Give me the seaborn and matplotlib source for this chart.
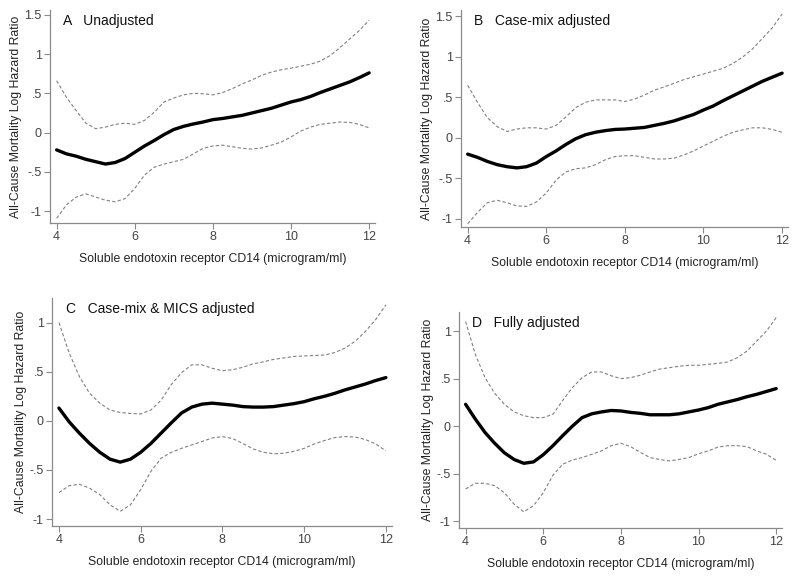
import matplotlib.pyplot as plt
import numpy as np
import pandas as pd
import seaborn as sns

# soluble CD14 grid (microgram/ml), read every 0.25
x = [4, 4.25, 4.5, 4.75, 5, 5.25, 5.5, 5.75, 6, 6.25, 6.5, 6.75, 7, 7.25, 7.5, 7.75,
     8, 8.25, 8.5, 8.75, 9, 9.25, 9.5, 9.75, 10, 10.25, 10.5, 10.75, 11, 11.25, 11.5, 11.75, 12]

# A  Unadjusted
a_est = [-0.22, -0.27, -0.30, -0.34, -0.37, -0.40, -0.38, -0.33, -0.25, -0.17, -0.10, -0.025, 0.04,
         0.08, 0.11, 0.135, 0.165, 0.18, 0.20, 0.22, 0.25, 0.28, 0.31, 0.35, 0.39, 0.42, 0.46,
         0.51, 0.555, 0.60, 0.645, 0.70, 0.76]
a_up = [0.66, 0.45, 0.28, 0.12, 0.05, 0.07, 0.105, 0.12, 0.105, 0.155, 0.26, 0.39, 0.44, 0.48,
        0.50, 0.495, 0.48, 0.51, 0.56, 0.62, 0.67, 0.73, 0.77, 0.80, 0.82, 0.845, 0.87, 0.91,
        0.98, 1.08, 1.19, 1.30, 1.43]
a_lo = [-1.09, -0.92, -0.82, -0.78, -0.82, -0.86, -0.88, -0.84, -0.71, -0.54, -0.44, -0.40, -0.37,
        -0.34, -0.27, -0.20, -0.17, -0.16, -0.18, -0.20, -0.21, -0.195, -0.16, -0.12, -0.055, 0.02,
        0.07, 0.105, 0.12, 0.135, 0.13, 0.105, 0.06]

# B  Case-mix adjusted
b_est = [-0.20, -0.24, -0.29, -0.33, -0.355, -0.37, -0.355, -0.31, -0.23, -0.16, -0.08, -0.01, 0.04,
         0.07, 0.09, 0.105, 0.11, 0.12, 0.13, 0.155, 0.18, 0.21, 0.25, 0.29, 0.345, 0.395, 0.46,
         0.52, 0.58, 0.64, 0.70, 0.75, 0.80]
b_up = [0.65, 0.44, 0.25, 0.14, 0.08, 0.11, 0.125, 0.125, 0.11, 0.155, 0.26, 0.375, 0.44, 0.47,
        0.47, 0.47, 0.45, 0.48, 0.53, 0.59, 0.63, 0.675, 0.72, 0.755, 0.79, 0.825, 0.86, 0.92,
        1.0, 1.10, 1.23, 1.36, 1.53]
b_lo = [-1.06, -0.92, -0.80, -0.77, -0.80, -0.84, -0.845, -0.79, -0.68, -0.52, -0.42, -0.38, -0.37,
        -0.33, -0.27, -0.23, -0.22, -0.22, -0.24, -0.26, -0.26, -0.25, -0.21, -0.16, -0.10, -0.04,
        0.02, 0.07, 0.10, 0.125, 0.125, 0.105, 0.07]

# C  Case-mix & MICS adjusted
c_est = [0.13, -0.01, -0.125, -0.23, -0.32, -0.39, -0.42, -0.39, -0.32, -0.23, -0.125, -0.02, 0.08,
         0.14, 0.17, 0.18, 0.17, 0.16, 0.145, 0.14, 0.14, 0.145, 0.16, 0.175, 0.195, 0.225, 0.25,
         0.28, 0.315, 0.345, 0.375, 0.41, 0.44]
c_up = [1.0, 0.69, 0.45, 0.28, 0.18, 0.11, 0.085, 0.075, 0.07, 0.11, 0.21, 0.37, 0.49, 0.57,
        0.57, 0.535, 0.51, 0.52, 0.545, 0.58, 0.60, 0.625, 0.64, 0.655, 0.66, 0.665, 0.67, 0.695,
        0.74, 0.81, 0.91, 1.03, 1.18]
c_lo = [-0.73, -0.66, -0.645, -0.685, -0.75, -0.855, -0.92, -0.855, -0.70, -0.515, -0.38, -0.32,
        -0.28, -0.245, -0.21, -0.175, -0.16, -0.18, -0.23, -0.285, -0.32, -0.335, -0.33, -0.31,
        -0.28, -0.235, -0.20, -0.17, -0.16, -0.165, -0.19, -0.235, -0.305]

# D  Fully adjusted
d_est = [0.23, 0.075, -0.066, -0.18, -0.28, -0.35, -0.39, -0.375, -0.30, -0.205, -0.10, 0.0, 0.09,
         0.13, 0.15, 0.165, 0.16, 0.145, 0.135, 0.12, 0.12, 0.12, 0.13, 0.15, 0.17, 0.195, 0.23,
         0.255, 0.28, 0.31, 0.335, 0.365, 0.395]
d_up = [1.10, 0.755, 0.51, 0.345, 0.23, 0.15, 0.11, 0.09, 0.09, 0.125, 0.27, 0.405, 0.51, 0.57,
        0.57, 0.53, 0.50, 0.51, 0.535, 0.57, 0.60, 0.615, 0.63, 0.64, 0.64, 0.65, 0.66, 0.675,
        0.72, 0.79, 0.895, 1.0, 1.14]
d_lo = [-0.66, -0.60, -0.60, -0.625, -0.70, -0.82, -0.90, -0.835, -0.70, -0.515, -0.40, -0.355,
        -0.33, -0.295, -0.26, -0.205, -0.18, -0.215, -0.275, -0.33, -0.35, -0.365, -0.35, -0.33,
        -0.29, -0.26, -0.22, -0.205, -0.205, -0.215, -0.26, -0.295, -0.36]

titles = ["A   Unadjusted", "B   Case-mix adjusted",
          "C   Case-mix & MICS adjusted", "D   Fully adjusted"]
xlabel = "Soluble endotoxin receptor CD14 (microgram/ml)"
ylabel = "All-Cause Mortality Log Hazard Ratio"

sns.set_style("white")
plt.rcParams['font.family'] = ['Liberation Sans', 'DejaVu Sans']

W, H = 800, 577
fig = plt.figure(figsize=(W / 100, H / 100), dpi=100)

# panel boxes in pixels: left, top, right, bottom
boxes = [(50, 10, 375, 223), (461, 10, 788, 227),
         (52, 298, 392, 526), (459, 312, 782, 528)]
ylims = [(-1.15, 1.56), (-1.10, 1.58), (-1.07, 1.25), (-1.07, 1.20)]
yticks = [[-1, -0.5, 0, 0.5, 1, 1.5], [-1, -0.5, 0, 0.5, 1, 1.5],
          [-1, -0.5, 0, 0.5, 1], [-1, -0.5, 0, 0.5, 1]]
series = [(a_est, a_up, a_lo), (b_est, b_up, b_lo),
          (c_est, c_up, c_lo), (d_est, d_up, d_lo)]


def fmt(v):
    # Stata style: .5 instead of 0.5
    s = f"{v:g}"
    return s.replace("0.", ".")


for i, (box, (est, up, lo)) in enumerate(zip(boxes, series)):
    l, t, r, b = box
    ax = fig.add_axes([l / W, 1 - b / H, (r - l) / W, (b - t) / H])
    df = pd.DataFrame({"x": x, "est": est, "up": up, "lo": lo})
    sns.lineplot(data=df, x="x", y="up", ax=ax, color="#808080", lw=0.8,
                 linestyle=(0, (3, 2)))
    sns.lineplot(data=df, x="x", y="lo", ax=ax, color="#808080", lw=0.8,
                 linestyle=(0, (3, 2)))
    sns.lineplot(data=df, x="x", y="est", ax=ax, color="black", lw=2.4)
    ax.set_xlim(3.83, 12.15)
    ax.set_ylim(*ylims[i])
    ax.set_xticks([4, 6, 8, 10, 12])
    ax.set_yticks(yticks[i])
    ax.set_yticklabels([fmt(v) for v in yticks[i]])
    ax.set_xlabel(xlabel, fontsize=8.8, color="#222222", labelpad=7)
    ax.set_ylabel(ylabel, fontsize=8.8, color="#222222", labelpad=2)
    sns.despine(ax=ax)
    for s in ("left", "bottom"):
        ax.spines[s].set_color("#8a8a8a")
        ax.spines[s].set_linewidth(0.9)
    ax.tick_params(direction="out", length=4, width=0.8, color="#8a8a8a",
                   labelsize=9, labelcolor="#444444", pad=2,
                   left=True, bottom=True)
    ax.text(0.04, 0.95, titles[i], transform=ax.transAxes, fontsize=10,
            va="center", ha="left", color="#111111")

fig.savefig("out.png", dpi=100)
